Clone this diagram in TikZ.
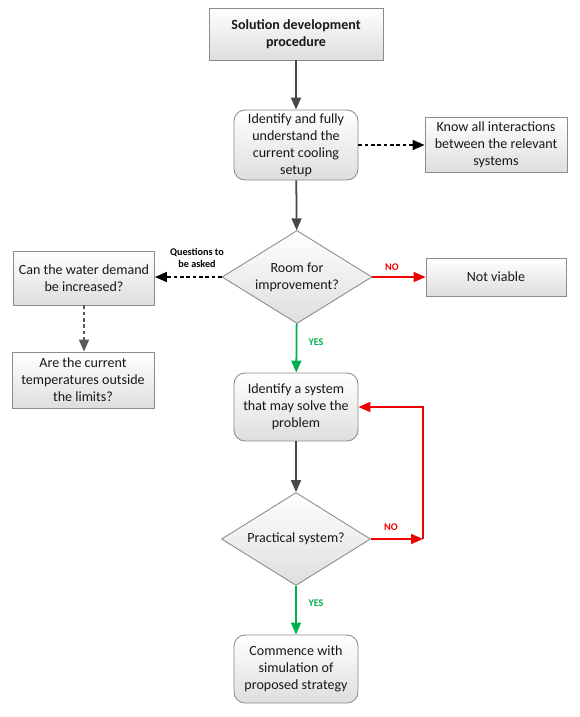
\documentclass[tikz,border=0pt]{standalone}
\usepackage{fontspec}
\setmainfont{Carlito}
\usepackage{tikz}
\usetikzlibrary{shapes.geometric,arrows.meta}
\definecolor{yesgreen}{RGB}{0,176,80}
\definecolor{nored}{RGB}{240,0,0}

\begin{document}
\begin{tikzpicture}[x=0.02cm,y=-0.02cm,
  box/.style={draw=black!45,top color=white,bottom color=black!13,align=center,
    text=black!90,font=\fontsize{8}{9.7}\selectfont,inner sep=0pt,line width=0.5pt},
  rbox/.style={box,rounded corners=0.22cm},
  dec/.style={box,diamond,aspect=1.6},
  flow/.style={draw=black!72,line width=1pt,-{Triangle[length=0.24cm,width=0.2cm]}},
  ask/.style={flow,draw=black,dash pattern=on 2pt off 1.6pt},
  nopath/.style={flow,draw=nored},
  yespath/.style={flow,draw=yesgreen},
  tag/.style={font=\fontsize{5.8}{6.8}\selectfont\bfseries,align=center}]
\useasboundingbox (0,0) rectangle (580,717);

\node[box,minimum width=3.48cm,minimum height=1.04cm,font=\fontsize{8}{9.7}\selectfont\bfseries] (start) at (296,34) {Solution development\\procedure};
\node[rbox,minimum width=2.48cm,minimum height=1.4cm] (setup) at (296,145) {Identify and fully\\understand the\\current cooling\\setup};
\node[box,minimum width=2.84cm,minimum height=1.1cm] (know) at (496,145) {Know all interactions\\between the relevant\\systems};
\node[dec,minimum width=3cm,minimum height=1.86cm] (room) at (297,277) {Room for\\improvement?};
\node[box,minimum width=2.82cm,minimum height=1.08cm] (water) at (84,278) {Can the water demand\\be increased?};
\node[box,minimum width=2.8cm,minimum height=0.76cm] (viable) at (496,277) {Not viable};
\node[box,minimum width=2.84cm,minimum height=1.12cm] (temp) at (83,380) {Are the current\\temperatures outside\\the limits?};
\node[rbox,minimum width=2.48cm,minimum height=1.36cm] (sys) at (296,407) {Identify a system\\that may solve the\\problem};
\node[dec,minimum width=2.98cm,minimum height=1.86cm] (prac) at (296,539) {Practical system?};
\node[rbox,minimum width=2.48cm,minimum height=1.36cm] (sim) at (296,669) {Commence with\\simulation of\\proposed strategy};
\coordinate (back) at (423,539);

\draw[flow] (start) -- (setup);
\draw[ask] (setup) -- (know);
\draw[flow] (setup) -- (room);
\draw[ask] (room.west) -- (water.east |- room.west);
\draw[nopath] (room.east) -- (viable.west |- room.east);
\draw[ask,draw=black!65] (water) -- (temp.north -| water);
\draw[yespath] (room) -- (sys);
\draw[flow] (sys) -- (prac);
\draw[nopath] (prac.east) -- (back);
\draw[nopath] (back) |- (sys.east);
\draw[yespath] (prac) -- (sim);

\node[tag] (asked) at (197,258) {Questions to\\be asked};
\node[tag,text=nored] (no1) at (392,267) {NO};
\node[tag,text=yesgreen] (yes1) at (316,342) {YES};
\node[tag,text=nored] (no2) at (391,527) {NO};
\node[tag,text=yesgreen] (yes2) at (316,603) {YES};
\end{tikzpicture}
\end{document}
